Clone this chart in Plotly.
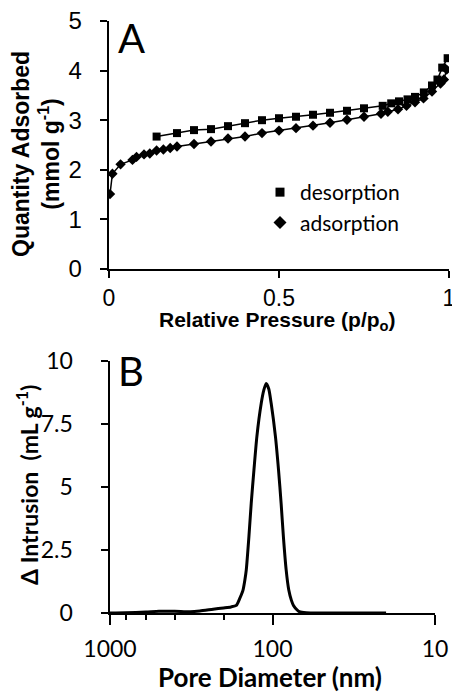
import plotly.graph_objects as go

# ---- Panel A: N2 sorption isotherm ----
ads_p = [0.003, 0.01, 0.034, 0.069, 0.081, 0.103, 0.12, 0.14, 0.16, 0.18, 0.20,
         0.25, 0.30, 0.35, 0.40, 0.45, 0.50, 0.55, 0.60, 0.65, 0.70, 0.75, 0.80,
         0.82, 0.85, 0.875, 0.90, 0.925, 0.95, 0.975, 0.985, 0.993]
ads_q = [1.51, 1.92, 2.11, 2.20, 2.26, 2.31, 2.33, 2.39, 2.41, 2.44, 2.47,
         2.52, 2.57, 2.63, 2.67, 2.74, 2.79, 2.84, 2.89, 2.95, 3.01, 3.07, 3.13,
         3.17, 3.22, 3.29, 3.36, 3.44, 3.58, 3.74, 3.82, 4.02]
des_p = [0.14, 0.20, 0.25, 0.30, 0.35, 0.40, 0.45, 0.50, 0.55, 0.60, 0.65, 0.70,
         0.75, 0.805, 0.83, 0.853, 0.878, 0.90, 0.926, 0.95, 0.966, 0.98, 0.996]
des_q = [2.67, 2.74, 2.80, 2.82, 2.88, 2.94, 3.00, 3.04, 3.07, 3.11, 3.15, 3.19,
         3.24, 3.29, 3.34, 3.38, 3.42, 3.47, 3.56, 3.70, 3.82, 4.06, 4.25]

# ---- Panel B: pore size distribution ----
pore_d = [1000, 800, 600, 500, 400, 320, 280, 232, 200, 180, 167, 159, 152, 148,
          145, 139.7, 135.2, 130.1, 124.8, 117.3, 113, 109.4, 105.5, 101.9, 95.9,
          91.8, 88.5, 85.7, 82.4, 79.4, 76.5, 74.3, 70.5, 68.3, 62, 50, 30, 20]
intrusion = [0.0, 0.01, 0.04, 0.07, 0.07, 0.05, 0.08, 0.15, 0.20, 0.24, 0.30, 0.58,
             0.90, 1.30, 1.71, 3.03, 4.35, 5.67, 7.00, 8.32, 8.85, 9.11, 8.90, 8.32,
             7.00, 5.67, 4.35, 3.03, 1.71, 0.91, 0.50, 0.30, 0.12, 0.05, 0.01, 0.0,
             0.0, 0.0]

A_yticks = [0, 1, 2, 3, 4, 5]
A_yticklabels = ["0", "1", "2", "3", "4", "5"]
A_xticks = [0, 0.5, 1]
A_xticklabels = ["0", "0.5", "1"]
A_xrange = [0, 1]
A_yrange = [0, 5]
B_yticks = [0, 2.5, 5, 7.5, 10]
B_yticklabels = ["0", "2.5", "5", "7.5", "10"]
B_xticks = [1000, 100, 10]
B_xticklabels = ["1000", "100", "10"]
B_xrange = [1000, 10]
B_yrange = [0, 10]

W, H = 452, 694
ML, MR, MT, MB = 60, 2, 20, 60
def px(x):
    return (x - ML) / (W - ML - MR)
def py(y):
    return (H - MB - y) / (H - MT - MB)

A_X0, A_X1, A_Y0, A_Y1 = 109, 449, 269, 21
B_X0, B_X1, B_Y0, B_Y1 = 110, 435, 613, 361

ARIAL = "Arial, Liberation Sans, sans-serif"
CALI = "Lato, Open Sans, sans-serif"
NB = "\u00a0"
K = "#000000"

fig = go.Figure()

fig.add_trace(go.Scatter(x=des_p, y=des_q, mode="lines+markers", showlegend=False,
                         line=dict(color=K, width=1.5),
                         marker=dict(symbol="square", size=8, color=K),
                         xaxis="x", yaxis="y"))
fig.add_trace(go.Scatter(x=ads_p, y=ads_q, mode="lines+markers", showlegend=False,
                         line=dict(color=K, width=1.5),
                         marker=dict(symbol="diamond", size=8, color=K),
                         xaxis="x", yaxis="y"))
# legend entries (markers only, as in the reference)
fig.add_trace(go.Scatter(x=[None], y=[None], mode="markers", name="desorption",
                         marker=dict(symbol="square", size=9, color=K),
                         xaxis="x", yaxis="y"))
fig.add_trace(go.Scatter(x=[None], y=[None], mode="markers", name="adsorption",
                         marker=dict(symbol="diamond", size=10, color=K),
                         xaxis="x", yaxis="y"))

fig.add_trace(go.Scatter(x=pore_d, y=intrusion, mode="lines", showlegend=False,
                         line=dict(color=K, width=3, shape="spline", smoothing=0.6),
                         xaxis="x2", yaxis="y2"))

fig.update_layout(
    template="none",
    width=W, height=H,
    margin=dict(l=ML, r=MR, t=MT, b=MB),
    showlegend=True,
    legend=dict(x=px(260), y=py(172), xanchor="left", yanchor="top",
                bgcolor="rgba(0,0,0,0)", font=dict(family=CALI, size=21, color=K),
                tracegroupgap=0, itemwidth=30),
    annotations=[
        dict(text="A", x=px(116), y=py(38), xref="paper", yref="paper",
             xanchor="left", yanchor="middle", showarrow=False,
             font=dict(family=CALI, size=40, color=K)),
        dict(text="B", x=px(116), y=py(371), xref="paper", yref="paper",
             xanchor="left", yanchor="middle", showarrow=False,
             font=dict(family=CALI, size=40, color=K)),
        dict(text="<b>Quantity Adsorbed<br>(mmol g<sup>-1</sup>)</b>", x=px(36), y=py(154),
             xref="paper", yref="paper", xanchor="center", yanchor="middle",
             textangle=-90, showarrow=False,
             font=dict(family=ARIAL, size=23, color=K)),
        dict(text="<b>Relative Pressure (p/p<sub>o</sub>)</b>", x=px(277), y=py(321),
             xref="paper", yref="paper", xanchor="center", yanchor="middle",
             showarrow=False, font=dict(family=ARIAL, size=21, color=K)),
        dict(text="<b>Δ Intrusion  (mL g<sup>-1</sup>)</b>", x=px(27), y=py(485),
             xref="paper", yref="paper", xanchor="center", yanchor="middle",
             textangle=-90, showarrow=False,
             font=dict(family=CALI, size=23, color=K)),
        dict(text="<b>Pore Diameter (nm)</b>", x=px(270), y=py(677),
             xref="paper", yref="paper", xanchor="center", yanchor="middle",
             showarrow=False, font=dict(family=CALI, size=26, color=K)),
    ],
)

fig.update_xaxes(selector=dict(anchor="y"))  # no-op safeguard
fig.layout.xaxis = go.layout.XAxis(
    domain=[px(A_X0), px(A_X1)], range=A_xrange, anchor="y",
    showline=True, linecolor=K, linewidth=2, mirror=False,
    ticks="outside", ticklen=7, tickwidth=2, tickcolor=K,
    showgrid=False, zeroline=False,
    tickmode="array", tickvals=A_xticks, ticktext=A_xticklabels,
    ticklabeloverflow="allow",
    tickfont=dict(family=ARIAL, size=23, color=K))
fig.layout.yaxis = go.layout.YAxis(
    domain=[py(A_Y0), py(A_Y1)], range=A_yrange, anchor="x",
    showline=True, linecolor=K, linewidth=2, mirror=False,
    ticks="outside", ticklen=7, tickwidth=2, tickcolor=K,
    showgrid=False, zeroline=False,
    tickmode="array", tickvals=A_yticks,
    ticktext=[t + NB * 2 for t in A_yticklabels],
    tickfont=dict(family=ARIAL, size=24, color=K))
fig.layout.xaxis2 = go.layout.XAxis(
    domain=[px(B_X0), px(B_X1)], type="log", autorange="reversed", anchor="y2",
    showline=True, linecolor=K, linewidth=2, mirror=False,
    ticks="outside", ticklen=10, tickwidth=2, tickcolor=K,
    minor=dict(ticks="outside", ticklen=5, tickwidth=1.5, tickcolor=K, showgrid=False),
    showgrid=False, zeroline=False,
    tickmode="array", tickvals=B_xticks, ticktext=B_xticklabels,
    ticklabelstandoff=4,
    tickfont=dict(family=CALI, size=23, color=K))
fig.layout.xaxis2.autorange = None
fig.layout.xaxis2.range = [3, 1]
fig.layout.yaxis2 = go.layout.YAxis(
    domain=[py(B_Y0), py(B_Y1)], range=B_yrange, anchor="x2",
    showline=True, linecolor=K, linewidth=2, mirror=False,
    ticks="outside", ticklen=7, tickwidth=2, tickcolor=K,
    showgrid=False, zeroline=False,
    tickmode="array", tickvals=B_yticks,
    ticktext=[t + NB * 4 for t in B_yticklabels],
    tickfont=dict(family=CALI, size=23, color=K))

fig.write_html("out.html")
